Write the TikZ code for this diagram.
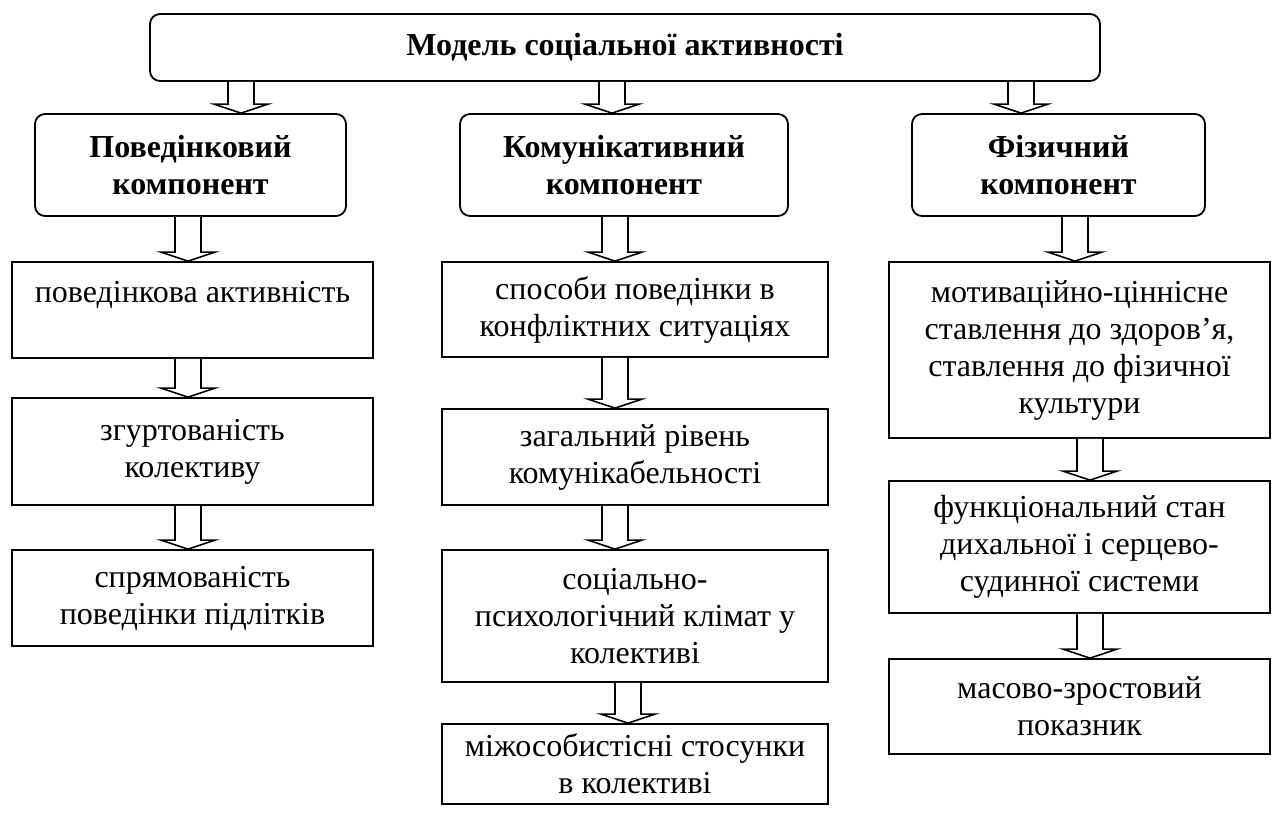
\documentclass[tikz,border=0pt]{standalone}
\usepackage{fontspec}
\setmainfont{Liberation Serif}
\usetikzlibrary{calc}
\tikzset{
  base/.style={draw, line width=1.8pt, inner sep=0pt, align=center,
    font=\fontsize{32}{37}\selectfont},
  rbox/.style={base, rounded corners=10pt, font=\fontsize{32}{37}\selectfont\bfseries},
  sbox/.style={base},
  arr/.style={draw, line width=1.6pt, fill=white}
}
\newcommand\barrow[3]{%
  \draw[arr] let \p1=(#1.south), \p2=(#2.north) in
    (#3pt-13pt,\y1) -- (#3pt-13pt,\y2+9pt) -- (#3pt-27pt,\y2+9pt) -- (#3pt,\y2)
    -- (#3pt+27pt,\y2+9pt) -- (#3pt+13pt,\y2+9pt) -- (#3pt+13pt,\y1);}
\begin{document}
\begin{tikzpicture}[x=1pt,y=-1pt]
\useasboundingbox[fill=white] (0,0) rectangle (1282,818);

\node[rbox, minimum width=950, minimum height=67] (top) at (625,47.5) {Модель соціальної активності};

\node[rbox, minimum width=311, minimum height=102] (pa) at (190.5,165) {Поведінковий\\компонент};
\node[rbox, minimum width=328, minimum height=102] (ka) at (624,165) {Комунікативний\\компонент};
\node[rbox, minimum width=293, minimum height=102] (fa) at (1058.5,165) {Фізичний\\компонент};

\node[sbox, minimum width=361, minimum height=96] (p1) at (192.5,310) {поведінкова активність\\\mbox{}};
\node[sbox, minimum width=361, minimum height=107] (p2) at (192.5,451.5) {згуртованість\\колективу};
\node[sbox, minimum width=361, minimum height=96] (p3) at (192.5,598) {спрямованість\\поведінки підлітків};

\node[sbox, minimum width=386, minimum height=95] (k1) at (635,309.5) {способи поведінки в\\конфліктних ситуаціях};
\node[sbox, minimum width=386, minimum height=96] (k2) at (635,457) {загальний рівень\\комунікабельності};
\node[sbox, minimum width=386, minimum height=132] (k3) at (635,616) {соціально-\\психологічний клімат у\\колективі};
\node[sbox, minimum width=386, minimum height=80] (k4) at (635,764) {міжособистісні стосунки\\в колективі};

\node[sbox, minimum width=381, minimum height=176] (f1) at (1079.5,350) {мотиваційно-ціннісне\\ставлення до здоров’я,\\ставлення до фізичної\\культури};
\node[sbox, minimum width=381, minimum height=132] (f2) at (1079.5,547) {функціональний стан\\дихальної і серцево-\\судинної системи};
\node[sbox, minimum width=381, minimum height=95] (f3) at (1079.5,706.5) {масово-зростовий\\показник};

\barrow{top}{pa}{241}
\barrow{top}{ka}{612}
\barrow{top}{fa}{1021}

\barrow{pa}{p1}{188}
\barrow{p1}{p2}{188}
\barrow{p2}{p3}{188}

\barrow{ka}{k1}{615}
\barrow{k1}{k2}{615}
\barrow{k2}{k3}{615}
\barrow{k3}{k4}{628}

\barrow{fa}{f1}{1075}
\barrow{f1}{f2}{1090}
\barrow{f2}{f3}{1090}
\end{tikzpicture}
\end{document}
